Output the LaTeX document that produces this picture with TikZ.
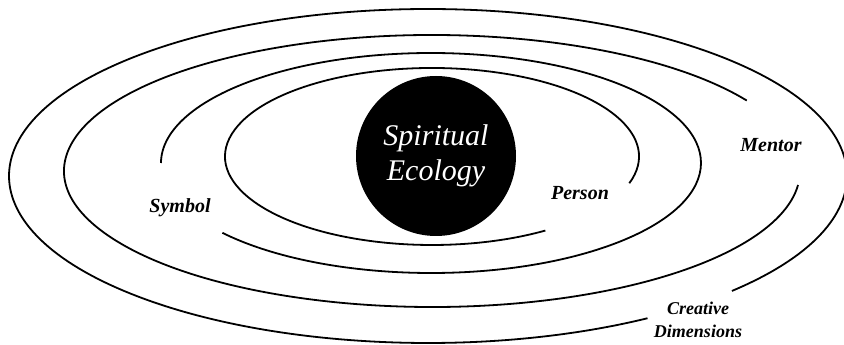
\documentclass[tikz,border=0pt]{standalone}
\usepackage{fontspec}
\setmainfont{Liberation Serif}

\begin{document}
\begin{tikzpicture}[x=1pt, y=1pt,
    ring/.style={line width=1.8pt},
    lbl/.style={font=\fontsize{20}{23}\selectfont\bfseries\itshape, inner sep=0pt, anchor=base},
    core/.style={circle, fill=black, minimum size=160pt, inner sep=0pt, text=white,
                 align=center, font=\fontsize{30}{35}\selectfont\itshape}
  ]
  \useasboundingbox (0,0) rectangle (844,345);

  % rings, outside in, each with its gap for a label
  \draw[ring] (428,169) ++(-43.5:419pt and 167pt)
    arc[start angle=-43.5, end angle=301.6, x radius=419pt, y radius=167pt];
  \draw[ring] (432,174) ++(31.2:368pt and 136pt)
    arc[start angle=31.2, end angle=354.1, x radius=368pt, y radius=136pt];
  \draw[ring] (431,182) ++(219.4:270pt and 110pt)
    arc[start angle=219.4, end angle=540, x radius=270pt, y radius=110pt];
  \draw[ring] (432,188.5) ++(-17.6:207pt and 88.5pt)
    arc[start angle=-17.6, end angle=303.2, x radius=207pt, y radius=88.5pt];

  \node[core] (eco) at (436,189) {Spiritual\\Ecology};

  \node[lbl] (symbol) at (180,132) {Symbol};
  \node[lbl] (person) at (580,145) {Person};
  \node[lbl] (mentor) at (771,193) {Mentor};
  \node[lbl, font=\fontsize{18}{23}\selectfont\bfseries\itshape, align=center, anchor=center]
        (creative) at (698,25) {Creative\\Dimensions};
\end{tikzpicture}
\end{document}
